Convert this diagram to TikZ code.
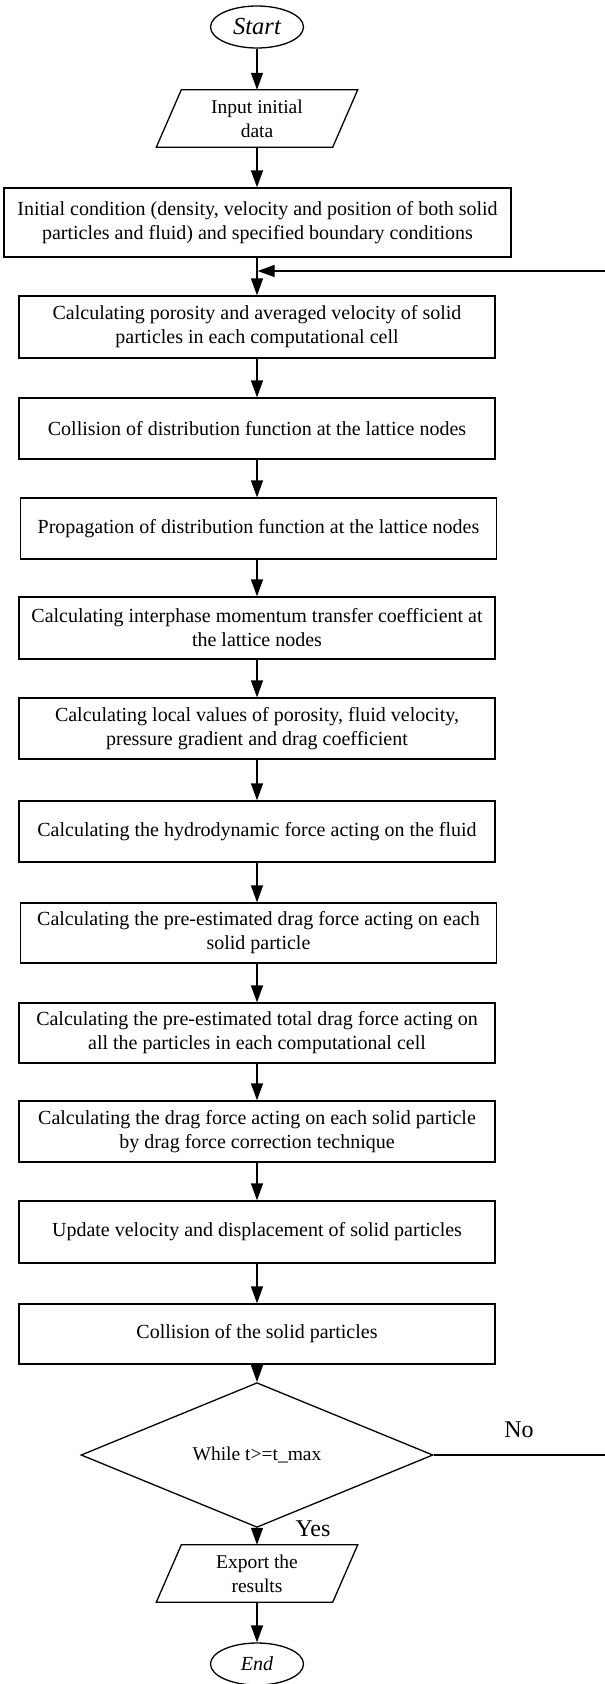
\documentclass[tikz,border=0pt]{standalone}
\usepackage{fontspec}
\setmainfont{Liberation Serif}
\usetikzlibrary{shapes.geometric,arrows.meta,calc}
\tikzset{
  procbox/.style={draw, line width=1.3pt, rectangle, align=center, inner sep=0pt,
    minimum width=476pt, minimum height=61pt, font=\fontsize{20}{24}\selectfont},
  termnode/.style={draw, line width=1.3pt, ellipse, inner sep=0pt,
    minimum width=93pt, minimum height=42pt, font=\fontsize{20}{24}\selectfont\itshape},
  ionode/.style={align=center, inner sep=0pt, minimum width=176pt, minimum height=57pt,
    font=\fontsize{19.5}{24}\selectfont},
  decnode/.style={draw, line width=1.3pt, diamond, inner sep=0pt,
    minimum width=352pt, minimum height=100pt, font=\fontsize{19.5}{24}\selectfont},
  flow/.style={line width=1.3pt, -{Triangle[length=17pt,width=12pt]}},
  lbl/.style={font=\fontsize{24}{28}\selectfont, inner sep=0pt}
}
\newcommand{\iopath}[1]{%
  \draw[line width=1.3pt] ($(#1.north west)+(12.5,0)$) -- ($(#1.north east)+(12.5,0)$)
    -- ($(#1.south east)+(-12.5,0)$) -- ($(#1.south west)+(-12.5,0)$) -- cycle;}
\begin{document}
\begin{tikzpicture}[x=1pt,y=-1pt]
\useasboundingbox[fill=white] (0,0) rectangle (605,1684);
\coordinate (ax) at (257,0);
\node[termnode, font=\fontsize{24.5}{28}\selectfont\itshape] (start) at (257,27) {Start};
\node[ionode] (input) at (257,118.5) {Input initial\\data};
\iopath{input}
\node[procbox, minimum width=507pt, minimum height=69pt] (b1) at (257.5,222.5)
  {Initial condition (density, velocity and position of both solid\\particles and fluid) and specified boundary conditions};
\node[procbox, minimum height=62pt] (b2) at (257,327)
  {Calculating porosity and averaged velocity of solid\\particles in each computational cell};
\node[procbox] (b3) at (257,428.5) {Collision of distribution function at the lattice nodes};
\node[procbox] (b4) at (258.5,528.5) {Propagation of distribution function at the lattice nodes};
\node[procbox, minimum height=62pt] (b5) at (257,628)
  {Calculating interphase momentum transfer coefficient at\\the lattice nodes};
\node[procbox] (b6) at (257,728.5)
  {Calculating local values of porosity, fluid velocity,\\pressure gradient and drag coefficient};
\node[procbox] (b7) at (257,831.5) {Calculating the hydrodynamic force acting on the fluid};
\node[procbox, minimum height=60pt] (b8) at (258.5,933)
  {Calculating the pre-estimated drag force acting on each\\solid particle};
\node[procbox, minimum height=60pt] (b9) at (257,1033)
  {Calculating the pre-estimated total drag force acting on\\all the particles in each computational cell};
\node[procbox] (b10) at (257,1131.5)
  {Calculating the drag force acting on each solid particle\\by drag force correction technique};
\node[procbox, minimum height=62pt] (b11) at (257,1232) {Update velocity and displacement of solid particles};
\node[procbox, minimum height=60pt] (b12) at (257,1334) {Collision of the solid particles};
\node[decnode] (dec) at (257,1455) {While t>=t\_max};
\node[ionode] (export) at (257,1573.5) {Export the\\results};
\iopath{export}
\node[termnode] (end) at (257,1664) {End};
\node[lbl] (no) at (519,1430) {No};
\node[lbl] (yes) at (313,1529) {Yes};
\coordinate (merge) at (257,271);
\coordinate (loopR) at (615,0);
% connectors
\draw[flow] (start) -- (input.north -| ax);
\draw[flow] (input.south -| ax) -- (b1.north -| ax);
\draw[flow] (b1.south -| ax) -- (b2.north -| ax);
\draw[flow] (b2.south -| ax) -- (b3.north -| ax);
\draw[flow] (b3.south -| ax) -- (b4.north -| ax);
\draw[flow] (b4.south -| ax) -- (b5.north -| ax);
\draw[flow] (b5.south -| ax) -- (b6.north -| ax);
\draw[flow] (b6.south -| ax) -- (b7.north -| ax);
\draw[flow] (b7.south -| ax) -- (b8.north -| ax);
\draw[flow] (b8.south -| ax) -- (b9.north -| ax);
\draw[flow] (b9.south -| ax) -- (b10.north -| ax);
\draw[flow] (b10.south -| ax) -- (b11.north -| ax);
\draw[flow] (b11.south -| ax) -- (b12.north -| ax);
\draw[flow] (b12.south -| ax) -- (dec.north);
\draw[flow] (dec.south) -- (export.north -| ax);
\draw[flow] (export.south -| ax) -- (end.north);
\draw[flow] (dec.east) -- (dec.east -| loopR) -- (merge -| loopR) -- ([xshift=0.65pt]merge);
\end{tikzpicture}
\end{document}
